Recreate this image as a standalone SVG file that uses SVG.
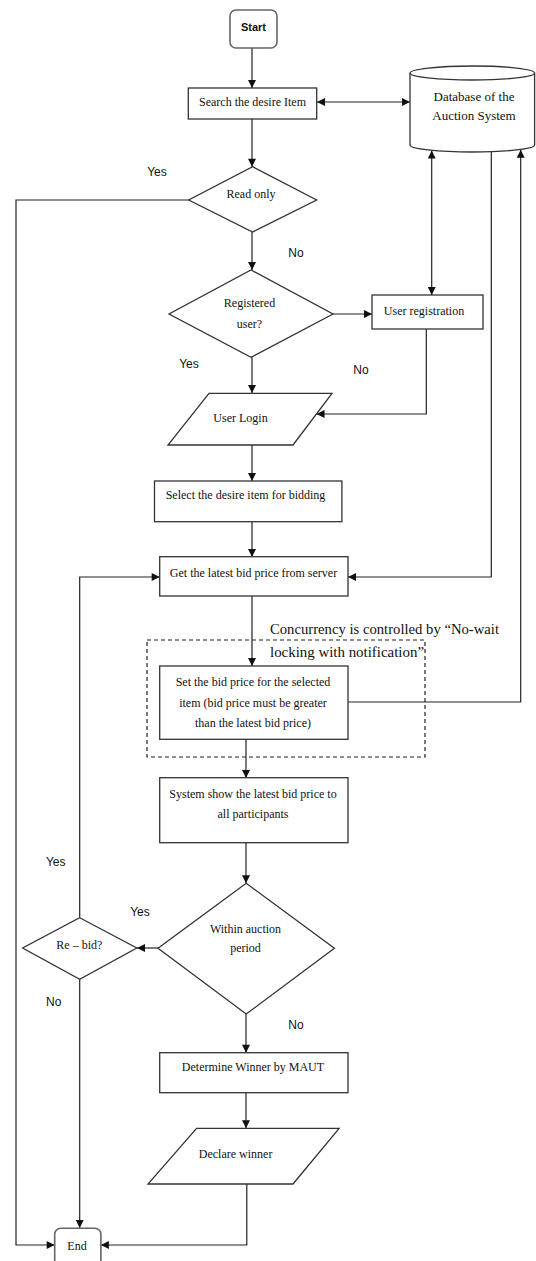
<svg xmlns="http://www.w3.org/2000/svg" width="536" height="1261" viewBox="0 0 536 1261">
  <defs>
    <marker id="arrow" viewBox="0 0 10 10" refX="10" refY="5" markerWidth="9" markerHeight="8" markerUnits="userSpaceOnUse" orient="auto-start-reverse">
      <path d="M0,0 L10,5 L0,10 Z" fill="#111"/>
    </marker>
    <style>
      .box { fill: #fff; stroke: #333; stroke-width: 1.3; }
      .term { fill: #fff; stroke: #666; stroke-width: 1.6; }
      .edge { fill: none; stroke: #222; stroke-width: 1.2; }
      .dash { fill: none; stroke: #222; stroke-width: 1.2; stroke-dasharray: 4 3; }
      .t { font-family: "Liberation Serif", "Times New Roman", serif; font-size: 12px; fill: #111; text-anchor: middle; }
      .db { font-size: 13px; }
      .lbl { font-family: "Liberation Sans", Arial, sans-serif; font-size: 12px; fill: #111; text-anchor: middle; }
      .note { font-family: "Liberation Serif", "Times New Roman", serif; font-size: 15px; fill: #111; }
    </style>
  </defs>
  <rect width="536" height="1261" fill="#fff"/>

  <!-- concurrency region around the bid step -->
  <g id="concurrency-region">
    <rect class="dash" x="147" y="640" width="278" height="117"/>
    <text class="note" x="270" y="633.5" textLength="229" lengthAdjust="spacingAndGlyphs">Concurrency is controlled by “No-wait</text>
    <text class="note" x="270" y="657" textLength="154" lengthAdjust="spacingAndGlyphs">locking with notification”</text>
  </g>

  <g id="connectors">
    <path class="edge" d="M252,48 V88" marker-end="url(#arrow)"/>
    <path class="edge" d="M317,102 H410" marker-start="url(#arrow)" marker-end="url(#arrow)"/>
    <path class="edge" d="M252,119 V166.7" marker-end="url(#arrow)"/>
    <path class="edge" d="M252,232 V270" marker-end="url(#arrow)"/>
    <path class="edge" d="M188.7,200 H16 V1245 H54.7" marker-end="url(#arrow)"/>
    <path class="edge" d="M333,314 H372" marker-end="url(#arrow)"/>
    <path class="edge" d="M431.7,150.5 V295" marker-start="url(#arrow)" marker-end="url(#arrow)"/>
    <path class="edge" d="M252,357 V393" marker-end="url(#arrow)"/>
    <path class="edge" d="M426.3,329 V414 H316.5" marker-end="url(#arrow)"/>
    <path class="edge" d="M252,445 V481" marker-end="url(#arrow)"/>
    <path class="edge" d="M252,522 V557" marker-end="url(#arrow)"/>
    <path class="edge" d="M252,596 V666" marker-end="url(#arrow)"/>
    <path class="edge" d="M491.3,151.7 V577 H348" marker-end="url(#arrow)"/>
    <path class="edge" d="M348,702 H520.7 V149.8" marker-end="url(#arrow)"/>
    <path class="edge" d="M246,739 V778" marker-end="url(#arrow)"/>
    <path class="edge" d="M246,843 V883.3" marker-end="url(#arrow)"/>
    <path class="edge" d="M158,948 H137" marker-end="url(#arrow)"/>
    <path class="edge" d="M79.7,917.7 V577 H159.7" marker-end="url(#arrow)"/>
    <path class="edge" d="M79.7,979.3 V1228" marker-end="url(#arrow)"/>
    <path class="edge" d="M246,1014 V1052.7" marker-end="url(#arrow)"/>
    <path class="edge" d="M246,1092.7 V1128.3" marker-end="url(#arrow)"/>
    <path class="edge" d="M246.8,1184 V1245 H100.9" marker-end="url(#arrow)"/>
  </g>

  <g id="start">
    <rect class="term" x="230" y="10" width="47" height="38" rx="6"/>
    <text x="253.5" y="31" font-family="Liberation Sans, Arial, sans-serif" font-size="11" font-weight="bold" fill="#111" text-anchor="middle">Start</text>
  </g>

  <g id="search-item">
    <rect class="box" x="188.3" y="88" width="128.4" height="31"/>
    <text class="t" x="252.5" y="106">Search the desire Item</text>
  </g>

  <g id="database">
    <path class="box" d="M410,73 V145 A62.3,7 0 0 0 534.6,145 V73"/>
    <ellipse class="box" cx="472.3" cy="73" rx="62.3" ry="7"/>
    <text class="t db" x="474" y="100.5">Database of the</text>
    <text class="t db" x="474" y="119.5">Auction System</text>
  </g>

  <g id="read-only">
    <polygon class="box" points="252.6,166.7 316.6,200 252.6,232 188.7,200"/>
    <text class="t" x="251" y="198">Read only</text>
  </g>

  <g id="registered-user">
    <polygon class="box" points="251,270 333,314 251,357.3 169,314"/>
    <text class="t" x="249.5" y="307">Registered</text>
    <text class="t" x="249.5" y="327.5">user?</text>
  </g>

  <g id="user-registration">
    <rect class="box" x="372" y="295" width="111" height="34"/>
    <text class="t" x="424" y="315">User registration</text>
  </g>

  <g id="user-login">
    <polygon class="box" points="209,393.3 332,393.3 293,445 168,445"/>
    <text class="t" x="240.5" y="422">User Login</text>
  </g>

  <g id="select-item">
    <rect class="box" x="154.5" y="481" width="187.4" height="40.7"/>
    <text class="t" x="245.5" y="499">Select the desire item for bidding</text>
  </g>

  <g id="get-latest-bid">
    <rect class="box" x="159.7" y="556.7" width="188.3" height="39.3"/>
    <text class="t" x="253.5" y="577">Get the latest bid price from server</text>
  </g>

  <g id="set-bid-price">
    <rect class="box" x="159.7" y="666" width="188.3" height="73.3"/>
    <text class="t" x="253" y="686">Set the bid price for the selected</text>
    <text class="t" x="253" y="707">item (bid price must be greater</text>
    <text class="t" x="253" y="727">than the latest bid price)</text>
  </g>

  <g id="show-latest-bid">
    <rect class="box" x="159.7" y="777.7" width="188.3" height="65"/>
    <text class="t" x="253" y="797.5">System show the latest bid price to</text>
    <text class="t" x="253" y="817.5">all participants</text>
  </g>

  <g id="within-period">
    <polygon class="box" points="246.2,883.3 334.4,948.3 246.2,1014 158,948.3"/>
    <text class="t" x="245.5" y="932.5">Within auction</text>
    <text class="t" x="245.5" y="951.5">period</text>
  </g>

  <g id="re-bid">
    <polygon class="box" points="79.7,917.7 136.8,948 79.7,979.3 22.6,948"/>
    <text class="t" x="79.3" y="949">Re – bid?</text>
  </g>

  <g id="determine-winner">
    <rect class="box" x="159.7" y="1052.7" width="188.3" height="40"/>
    <text class="t" x="253" y="1071">Determine Winner by MAUT</text>
  </g>

  <g id="declare-winner">
    <polygon class="box" points="196.6,1128.3 339.1,1128.3 293,1184 148,1184"/>
    <text class="t" x="235.6" y="1157.5">Declare winner</text>
  </g>

  <g id="end">
    <rect class="term" x="54.7" y="1228.3" width="46.2" height="50" rx="6"/>
    <text class="t" x="77" y="1249.5" font-size="13">End</text>
  </g>

  <g id="branch-labels">
    <text class="lbl" x="157" y="176">Yes</text>
    <text class="lbl" x="296" y="257">No</text>
    <text class="lbl" x="189" y="367.5">Yes</text>
    <text class="lbl" x="361" y="374">No</text>
    <text class="lbl" x="55.7" y="866">Yes</text>
    <text class="lbl" x="140" y="916">Yes</text>
    <text class="lbl" x="53.7" y="1006">No</text>
    <text class="lbl" x="296" y="1029">No</text>
  </g>
</svg>
